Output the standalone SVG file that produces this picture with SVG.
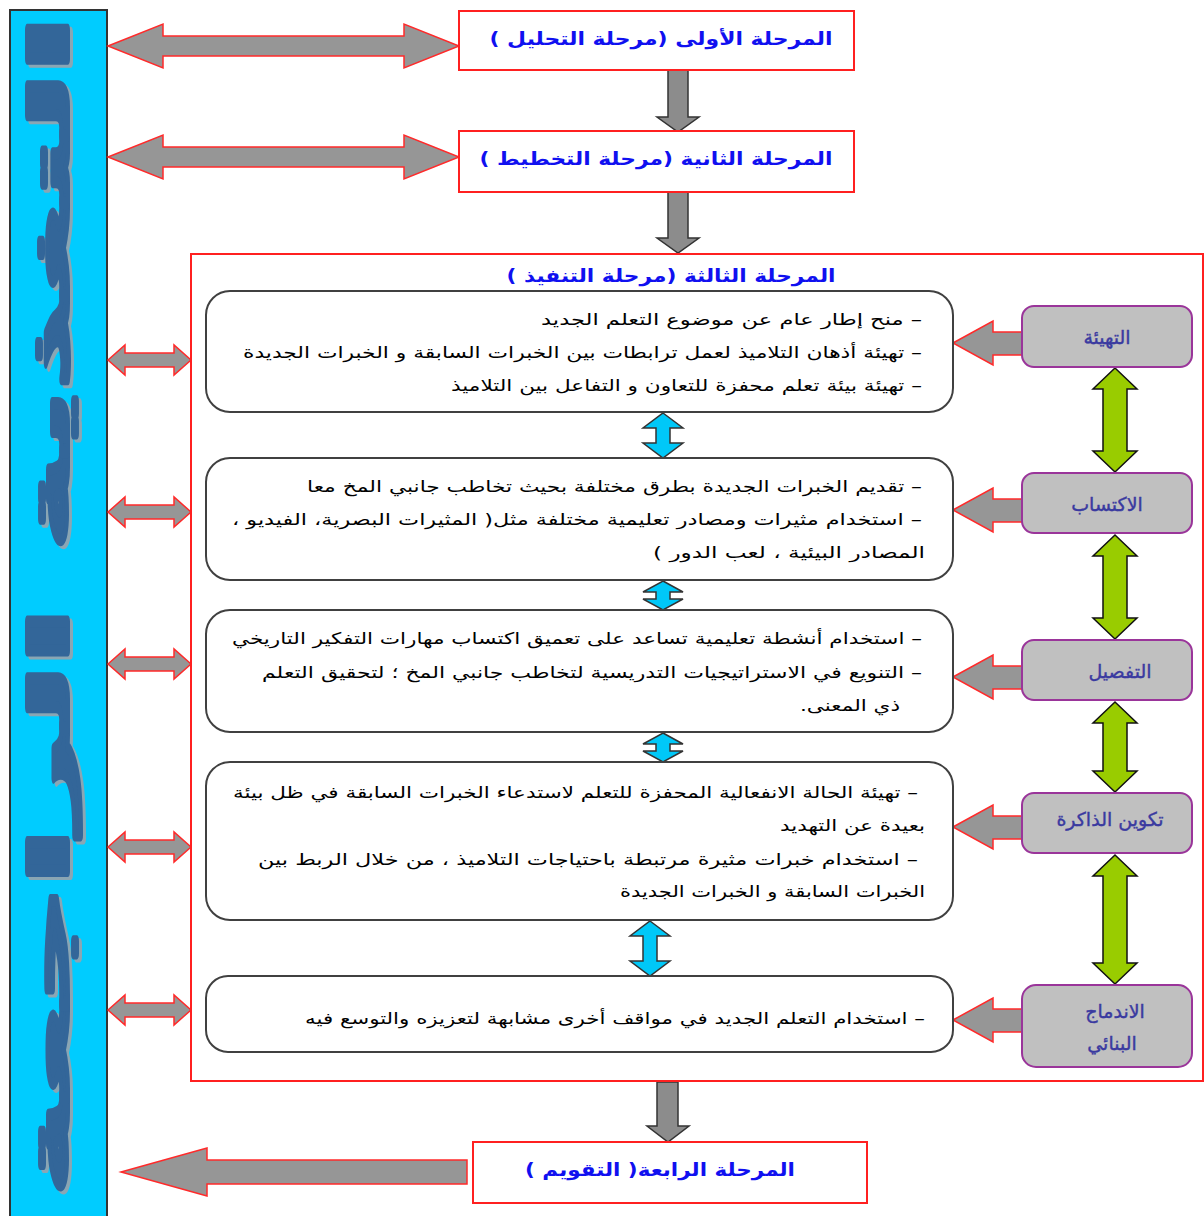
<svg xmlns="http://www.w3.org/2000/svg" width="1204" height="1216" viewBox="0 0 1204 1216">
<style>
.phase{fill:#fff;stroke:#ff2020;stroke-width:2}
.ttl{font-family:"DejaVu Sans",sans-serif;font-weight:bold;font-size:18px;fill:#1010f0;direction:rtl}
.body{font-family:"DejaVu Sans",sans-serif;font-size:16px;fill:#000;direction:rtl}
.card{fill:#fff;stroke:#404040;stroke-width:2}
.step{fill:#c0c0c0;stroke:#9a359a;stroke-width:2}
.steptxt{font-family:"DejaVu Sans",sans-serif;font-size:19px;fill:#3a3aa0;direction:rtl;stroke:#3a3aa0;stroke-width:0.4}
.grayR{fill:#969696;stroke:#ff2a2a;stroke-width:1.5;stroke-linejoin:miter}
.grayK{fill:#8c8c8c;stroke:#333;stroke-width:1.5}
.cyan{fill:#00c8f8;stroke:#333;stroke-width:1.5}
.green{fill:#99cc00;stroke:#111;stroke-width:1.5}
.vt{font-family:"DejaVu Sans",sans-serif;font-weight:bold;font-size:54px;direction:rtl;stroke-width:4;stroke-linejoin:round}
</style>

<g id="feedback">
<rect x="10" y="10" width="97" height="1215" fill="#00ccff" stroke="#333" stroke-width="2"/>
<text class="vt" transform="translate(71,609) rotate(-90)" text-anchor="middle" fill="#8aa6b4" stroke="#8aa6b4" textLength="1180" lengthAdjust="spacingAndGlyphs">التغذية الراجعة</text>
<text class="vt" transform="translate(68,606) rotate(-90)" text-anchor="middle" fill="#336699" stroke="#336699" textLength="1180" lengthAdjust="spacingAndGlyphs">التغذية الراجعة</text>
</g>

<g id="connectors">
<polygon class="grayR" points="108,46 163,24 163,36 404,36 404,24 459,46 404,68 404,56 163,56 163,68"/>
<polygon class="grayR" points="108,157 163,135 163,147 404,147 404,135 459,157 404,179 404,167 163,167 163,179"/>
<polygon class="grayK" points="668,70 688,70 688,117 699,117 678,132 657,117 668,117"/>
<polygon class="grayK" points="668,192 688,192 688,238 699,238 678,253 657,238 668,238"/>
<polygon class="grayK" points="657,1082 678,1082 678,1126 689,1126 668,1142 647,1126 657,1126"/>
<polygon class="grayR" points="121,1172 207,1148 207,1160 467,1160 467,1184 207,1184 207,1196"/>
<polygon class="grayR" points="108,360 125,345 125,353 174,353 174,345 191,360 174,375 174,367 125,367 125,375"/>
<polygon class="grayR" points="108,512 125,497 125,505 174,505 174,497 191,512 174,527 174,519 125,519 125,527"/>
<polygon class="grayR" points="108,664 125,649 125,657 174,657 174,649 191,664 174,679 174,671 125,671 125,679"/>
<polygon class="grayR" points="108,847 125,832 125,840 174,840 174,832 191,847 174,862 174,854 125,854 125,862"/>
<polygon class="grayR" points="108,1010 125,995 125,1003 174,1003 174,995 191,1010 174,1025 174,1017 125,1017 125,1025"/>
<polygon class="grayR" points="953,343 993,321 993,332 1022,332 1022,355 993,355 993,365"/>
<polygon class="grayR" points="953,510 993,488 993,499 1022,499 1022,522 993,522 993,532"/>
<polygon class="grayR" points="953,677 993,655 993,666 1022,666 1022,689 993,689 993,699"/>
<polygon class="grayR" points="953,827 993,805 993,816 1022,816 1022,839 993,839 993,849"/>
<polygon class="grayR" points="953,1020 993,998 993,1009 1022,1009 1022,1032 993,1032 993,1042"/>
<polygon class="cyan" points="663,413 683,428 670,428 670,443 683,443 663,458 643,443 656,443 656,428 643,428"/>
<polygon class="cyan" points="663,581 683,592 670,592 670,599 683,599 663,610 643,599 656,599 656,592 643,592"/>
<polygon class="cyan" points="663,733 683,744 670,744 670,751 683,751 663,762 643,751 656,751 656,744 643,744"/>
<polygon class="cyan" points="650,921 670,936 657,936 657,961 670,961 650,976 630,961 643,961 643,936 630,936"/>
<polygon class="green" points="1115,368 1137,389 1127,389 1127,451 1137,451 1115,472 1093,451 1103,451 1103,389 1093,389"/>
<polygon class="green" points="1115,535 1137,556 1127,556 1127,618 1137,618 1115,639 1093,618 1103,618 1103,556 1093,556"/>
<polygon class="green" points="1115,702 1137,723 1127,723 1127,771 1137,771 1115,792 1093,771 1103,771 1103,723 1093,723"/>
<polygon class="green" points="1115,855 1137,876 1127,876 1127,963 1137,963 1115,984 1093,963 1103,963 1103,876 1093,876"/>
</g>

<g id="phase1">
<rect class="phase" x="459" y="11" width="395" height="59"/>
<text class="ttl" x="661" y="45" text-anchor="middle" textLength="343" lengthAdjust="spacingAndGlyphs">المرحلة الأولى (مرحلة التحليل )</text>
</g>
<g id="phase2">
<rect class="phase" x="459" y="131" width="395" height="61"/>
<text class="ttl" x="656" y="165" text-anchor="middle" textLength="353" lengthAdjust="spacingAndGlyphs">المرحلة الثانية (مرحلة التخطيط )</text>
</g>

<g id="phase3">
<rect x="191" y="254" width="1012" height="827" fill="none" stroke="#ff2020" stroke-width="2"/>
<text class="ttl" x="671" y="282" text-anchor="middle" textLength="329" lengthAdjust="spacingAndGlyphs">المرحلة الثالثة (مرحلة التنفيذ )</text>
</g>

<g id="card1">
<rect class="card" x="206" y="291" width="747" height="121" rx="24"/>
<text class="body" x="731.5" y="325" text-anchor="middle" textLength="381" lengthAdjust="spacingAndGlyphs">– منح إطار عام عن موضوع التعلم الجديد</text>
<text class="body" x="582.5" y="358" text-anchor="middle" textLength="679" lengthAdjust="spacingAndGlyphs">– تهيئة أذهان التلاميذ لعمل ترابطات بين الخبرات السابقة و الخبرات الجديدة</text>
<text class="body" x="686.5" y="391" text-anchor="middle" textLength="471" lengthAdjust="spacingAndGlyphs">– تهيئة بيئة تعلم محفزة للتعاون و التفاعل بين التلاميذ</text>
</g>
<g id="card2">
<rect class="card" x="206" y="458" width="747" height="122" rx="24"/>
<text class="body" x="614.5" y="492" text-anchor="middle" textLength="615" lengthAdjust="spacingAndGlyphs">– تقديم الخبرات الجديدة بطرق مختلفة بحيث تخاطب جانبي المخ معا</text>
<text class="body" x="577" y="525" text-anchor="middle" textLength="690" lengthAdjust="spacingAndGlyphs">– استخدام مثيرات ومصادر تعليمية مختلفة مثل( المثيرات البصرية، الفيديو ،</text>
<text class="body" x="789" y="558" text-anchor="middle" textLength="272" lengthAdjust="spacingAndGlyphs">المصادر البيئية ، لعب الدور )</text>
</g>
<g id="card3">
<rect class="card" x="206" y="610" width="747" height="122" rx="24"/>
<text class="body" x="577" y="644" text-anchor="middle" textLength="690" lengthAdjust="spacingAndGlyphs">– استخدام أنشطة تعليمية تساعد على تعميق اكتساب مهارات التفكير التاريخي</text>
<text class="body" x="592" y="678" text-anchor="middle" textLength="660" lengthAdjust="spacingAndGlyphs">– التنويع في الاستراتيجيات التدريسية لتخاطب جانبي المخ ؛ لتحقيق التعلم</text>
<text class="body" x="850" y="711" text-anchor="middle" textLength="100" lengthAdjust="spacingAndGlyphs">ذي المعنى.</text>
</g>
<g id="card4">
<rect class="card" x="206" y="762" width="747" height="158" rx="24"/>
<text class="body" x="575.5" y="798" text-anchor="middle" textLength="685" lengthAdjust="spacingAndGlyphs">– تهيئة الحالة الانفعالية المحفزة للتعلم لاستدعاء الخبرات السابقة في ظل بيئة</text>
<text class="body" x="852.5" y="831" text-anchor="middle" textLength="145" lengthAdjust="spacingAndGlyphs">بعيدة عن التهديد</text>
<text class="body" x="588" y="865" text-anchor="middle" textLength="660" lengthAdjust="spacingAndGlyphs">– استخدام خبرات مثيرة مرتبطة باحتياجات التلاميذ ، من خلال الربط بين</text>
<text class="body" x="772.5" y="897" text-anchor="middle" textLength="305" lengthAdjust="spacingAndGlyphs">الخبرات السابقة و الخبرات الجديدة</text>
</g>
<g id="card5">
<rect class="card" x="206" y="976" width="747" height="76" rx="22"/>
<text class="body" x="615" y="1024" text-anchor="middle" textLength="620" lengthAdjust="spacingAndGlyphs">– استخدام التعلم الجديد في مواقف أخرى مشابهة لتعزيزه والتوسع فيه</text>
</g>

<g id="step1">
<rect class="step" x="1022" y="306" width="170" height="61" rx="12"/>
<text class="steptxt" x="1107" y="344" text-anchor="middle">التهيئة</text>
</g>
<g id="step2">
<rect class="step" x="1022" y="473" width="170" height="60" rx="12"/>
<text class="steptxt" x="1107" y="511" text-anchor="middle">الاكتساب</text>
</g>
<g id="step3">
<rect class="step" x="1022" y="640" width="170" height="60" rx="12"/>
<text class="steptxt" x="1120" y="678" text-anchor="middle">التفصيل</text>
</g>
<g id="step4">
<rect class="step" x="1022" y="793" width="170" height="60" rx="12"/>
<text class="steptxt" x="1110" y="826" text-anchor="middle" font-size="17">تكوين الذاكرة</text>
</g>
<g id="step5">
<rect class="step" x="1022" y="985" width="170" height="82" rx="14"/>
<text class="steptxt" x="1115" y="1018" text-anchor="middle" font-size="17">الاندماج</text>
<text class="steptxt" x="1112" y="1050" text-anchor="middle" font-size="17">البنائي</text>
</g>

<g id="phase4">
<rect class="phase" x="473" y="1142" width="394" height="61"/>
<text class="ttl" x="660" y="1176" text-anchor="middle" textLength="270" lengthAdjust="spacingAndGlyphs">المرحلة الرابعة( التقويم )</text>
</g>
</svg>
